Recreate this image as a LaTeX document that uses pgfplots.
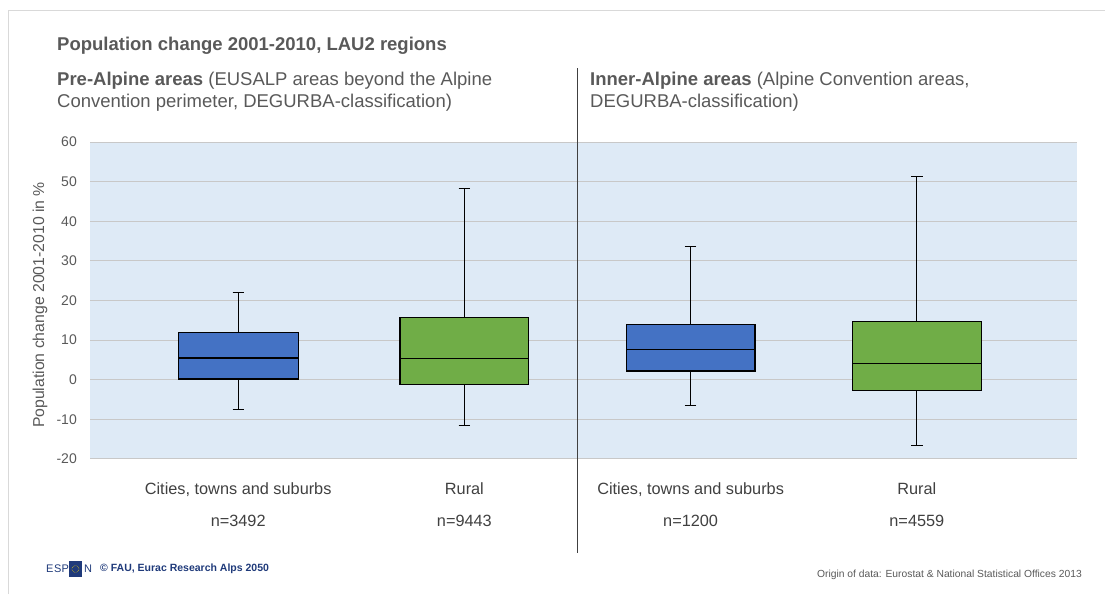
\documentclass[border=0pt]{standalone}
\usepackage{pgfplots}
\pgfplotsset{compat=1.18}
\usepgfplotslibrary{statistics}
\usepackage{fontspec}
\setmainfont{Liberation Sans}
\definecolor{bgblue}{HTML}{DEEAF6}
\definecolor{boxblue}{HTML}{4472C4}
\definecolor{boxgreen}{HTML}{70AD47}
\definecolor{gridgray}{HTML}{C8C8C8}
\definecolor{txtgray}{HTML}{595959}
\definecolor{darktxt}{HTML}{404040}
\definecolor{framegray}{HTML}{D9D9D9}
\definecolor{esponblue}{HTML}{1F3A7A}
\begin{document}
\begin{tikzpicture}[x=1pt,y=1pt]
\useasboundingbox (0,0) rectangle (1105,594);
% frame
\draw[framegray, line width=1pt] (8,0) -- (8,583) -- (1105,583);
\begin{axis}[
  at={(90pt,135pt)}, anchor=south west,
  scale only axis, width=987pt, height=317pt,
  xmin=0.345, xmax=4.708, ymin=-20, ymax=60,
  ytick={-20,-10,...,60},
  xtick={1,2,3,4},
  xticklabels={{Cities, towns and suburbs\\n=3492},{Rural\\n=9443},{Cities, towns and suburbs\\n=1200},{Rural\\n=4559}},
  xticklabel style={align=center, font=\fontsize{16.3}{32}\selectfont, text=darktxt, yshift=-20pt},
  yticklabel style={font=\fontsize{14}{16}\selectfont, text=txtgray, inner sep=0pt, xshift=-13pt},
  /pgf/number format/assume math mode=true,
  axis background/.style={fill=bgblue},
  axis line style={draw=none},
  major tick length=0pt,
  ymajorgrids, grid style={gridgray, line width=1pt},
  clip=false,
  boxplot/draw direction=y,
]
\addplot[draw=black, fill=boxblue, line width=1.2pt, boxplot prepared={
  draw position=1, box extend=0.53, whisker extend=0.05,
  lower whisker=-7.6, lower quartile=0.2, median=5.5, upper quartile=11.9, upper whisker=22.1}] coordinates {};
\addplot[draw=black, fill=boxgreen, line width=1.2pt, boxplot prepared={
  draw position=2, box extend=0.57, whisker extend=0.05,
  lower whisker=-11.6, lower quartile=-1.1, median=5.4, upper quartile=15.8, upper whisker=48.2}] coordinates {};
\addplot[draw=black, fill=boxblue, line width=1.2pt, boxplot prepared={
  draw position=3, box extend=0.57, whisker extend=0.05,
  lower whisker=-6.4, lower quartile=2.2, median=7.6, upper quartile=13.9, upper whisker=33.6}] coordinates {};
\addplot[draw=black, fill=boxgreen, line width=1.2pt, boxplot prepared={
  draw position=4, box extend=0.57, whisker extend=0.05,
  lower whisker=-16.5, lower quartile=-2.7, median=4.2, upper quartile=14.8, upper whisker=51.3}] coordinates {};
\end{axis}
% y label
\node[rotate=90, font=\fontsize{15.8}{18}\selectfont, text=txtgray] at (40,289) {Population change 2001-2010 in \%};
% divider
\draw[darktxt, line width=1pt] (577,41) -- (577,526);
% titles
\node[anchor=west, font=\bfseries\fontsize{18.5}{22}\selectfont, text=txtgray, inner sep=0pt] at (57,548) {Population change 2001-2010, LAU2 regions};
\node[anchor=west, font=\fontsize{18.5}{22}\selectfont, text=txtgray, inner sep=0pt] at (57,513) {\textbf{Pre-Alpine areas} (EUSALP areas beyond the Alpine};
\node[anchor=west, font=\fontsize{18.5}{22}\selectfont, text=txtgray, inner sep=0pt] at (57,491) {Convention perimeter, DEGURBA-classification)};
\node[anchor=west, font=\fontsize{18.5}{22}\selectfont, text=txtgray, inner sep=0pt] at (590,513) {\textbf{Inner-Alpine areas} (Alpine Convention areas,};
\node[anchor=west, font=\fontsize{18.5}{22}\selectfont, text=txtgray, inner sep=0pt] at (590,491) {DEGURBA-classification)};
% footer
\fill[esponblue] (69,17) rectangle (82,33);
\draw[yellow!80!orange, line width=0.5pt, densely dotted] (75.5,25) circle (3.5);
\node[anchor=west, font=\fontsize{11}{12}\selectfont, text=esponblue, inner sep=0pt] at (46,25) {E};
\node[anchor=west, font=\fontsize{11}{12}\selectfont, text=esponblue, inner sep=0pt] at (54,25) {S};
\node[anchor=west, font=\fontsize{11}{12}\selectfont, text=esponblue, inner sep=0pt] at (61.5,25) {P};
\node[anchor=west, font=\fontsize{11}{12}\selectfont, text=esponblue, inner sep=0pt] at (84,25) {N};
\node[anchor=west, font=\bfseries\fontsize{10.5}{12}\selectfont, text=esponblue, inner sep=0pt] at (100,25) {\textcopyright{} FAU, Eurac Research Alps 2050};
\node[anchor=east, font=\fontsize{10.3}{12}\selectfont, text=txtgray, inner sep=0pt] at (1082,19) {Origin of data: Eurostat \& National Statistical Offices 2013};
\end{tikzpicture}
\end{document}
